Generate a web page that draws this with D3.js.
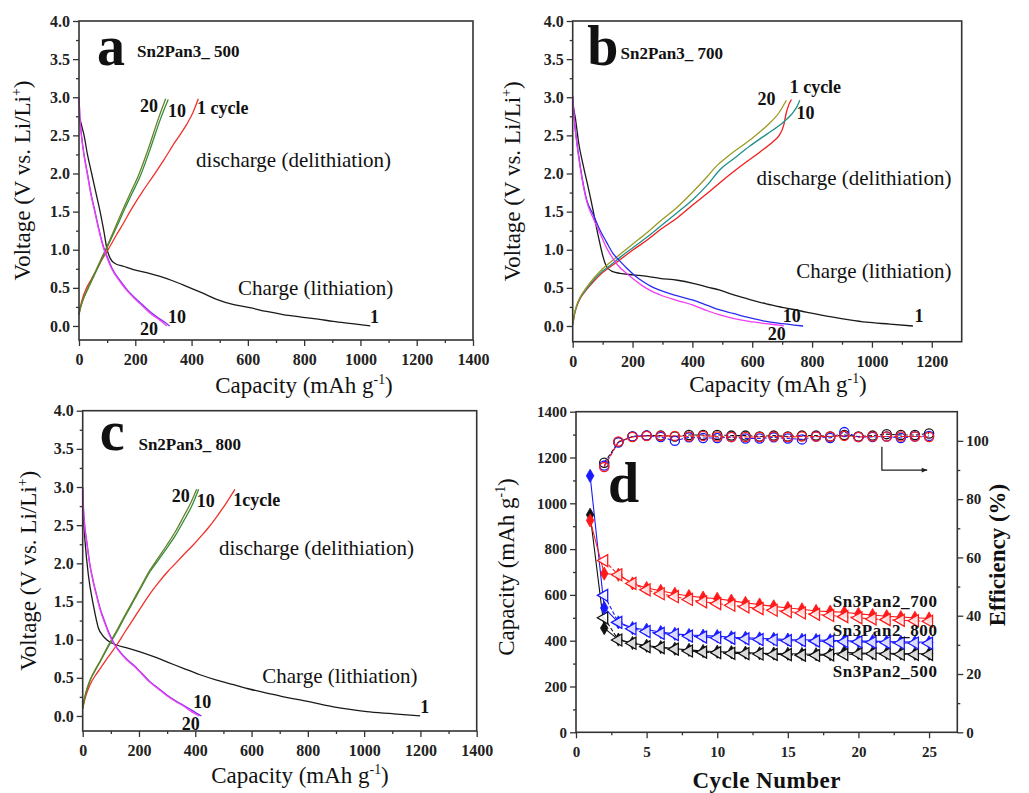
<!DOCTYPE html>
<html><head><meta charset="utf-8">
<script src="https://cdn.jsdelivr.net/npm/d3@7"></script>
<style>body{margin:0;background:#fff}svg{display:block}</style>
</head><body>
<svg id="chart" width="1029" height="793"></svg>
<script>
// ---------------- DATA ----------------
// Panel a : Sn2Pan3_500  [capacity mAh/g, voltage V]
const a_charge_1 = [[3,2.72],[10,2.62],[18,2.5],[30,2.25],[45,2.0],[60,1.75],[75,1.5],[88,1.25],[100,1.0],[112,0.88],[128,0.82],[160,0.78],[193,0.74],[240,0.70],[288,0.65],[335,0.59],[382,0.52],[440,0.43],[489,0.35],[550,0.28],[607,0.24],[666,0.19],[725,0.15],[784,0.12],[850,0.09],[903,0.06],[970,0.03],[1035,0.0]];
const a_charge_10 = [[0,3.0],[3,2.75],[9,2.5],[18,2.25],[30,2.0],[42,1.75],[57,1.5],[72,1.25],[88,1.03],[100,0.91],[117,0.76],[147,0.59],[170,0.48],[201,0.36],[231,0.26],[262,0.16],[292,0.08],[312,0.03],[322,0.0]];
const a_charge_20 = [[0,3.0],[3,2.74],[9,2.48],[18,2.23],[30,1.98],[42,1.73],[57,1.48],[72,1.23],[88,1.01],[100,0.89],[116,0.75],[146,0.58],[169,0.47],[200,0.35],[229,0.25],[258,0.15],[286,0.08],[303,0.03],[312,0.0]];
const a_dis_1 = [[0,0.15],[3,0.22],[10,0.33],[27,0.5],[45,0.62],[63,0.74],[80,0.86],[100,0.98],[134,1.2],[160,1.36],[181,1.5],[225,1.76],[264,1.97],[300,2.17],[341,2.41],[382,2.64],[405,2.8],[424,2.98]];
const a_dis_10 = [[0,0.15],[4,0.22],[12,0.32],[27,0.45],[50,0.63],[75,0.83],[100,1.03],[134,1.3],[163,1.54],[190,1.75],[217,1.96],[252,2.31],[288,2.70],[317,2.97]];
const a_dis_20 = [[0,0.15],[4,0.22],[12,0.32],[27,0.46],[50,0.65],[75,0.85],[100,1.05],[132,1.32],[160,1.56],[186,1.77],[212,1.98],[247,2.33],[282,2.72],[308,2.98]];

// Panel b : Sn2Pan3_700
const b_charge_1 = [[3,2.85],[8,2.75],[20,2.4],[36,2.09],[50,1.85],[69,1.5],[80,1.28],[91,1.08],[102,0.9],[113,0.78],[130,0.72],[158,0.69],[202,0.67],[250,0.65],[291,0.625],[350,0.6],[402,0.56],[450,0.51],[492,0.47],[536,0.41],[590,0.35],[647,0.29],[700,0.245],[759,0.2],[815,0.155],[870,0.115],[925,0.08],[981,0.05],[1060,0.025],[1137,0.0]];
const b_charge_10 = [[0,3.02],[3,2.85],[8,2.6],[13,2.44],[25,2.1],[47,1.65],[70,1.45],[91,1.26],[113,1.1],[135,0.95],[158,0.85],[180,0.76],[208,0.66],[236,0.58],[262,0.52],[291,0.47],[345,0.4],[402,0.34],[450,0.27],[492,0.21],[536,0.165],[590,0.11],[647,0.06],[700,0.03],[740,0.012],[770,0.0]];
const b_charge_20 = [[0,3.0],[3,2.85],[8,2.6],[13,2.42],[25,2.08],[47,1.63],[70,1.4],[91,1.22],[110,1.05],[124,0.95],[150,0.8],[180,0.69],[208,0.6],[236,0.52],[262,0.46],[291,0.41],[345,0.34],[402,0.275],[450,0.2],[492,0.145],[536,0.1],[590,0.06],[647,0.03],[690,0.01],[705,0.0]];
const b_dis_1 = [[0,0.02],[2,0.06],[6,0.15],[13,0.25],[25,0.36],[45,0.47],[69,0.58],[100,0.7],[130,0.79],[158,0.87],[202,1.0],[250,1.13],[291,1.26],[350,1.42],[402,1.59],[450,1.74],[492,1.88],[536,2.02],[580,2.15],[625,2.28],[670,2.42],[690,2.5],[705,2.63],[714,2.8],[722,2.9],[731,2.97]];
const b_dis_10 = [[0,0.02],[2,0.07],[6,0.16],[13,0.26],[25,0.37],[45,0.48],[69,0.6],[100,0.72],[130,0.81],[158,0.9],[202,1.03],[250,1.17],[291,1.3],[350,1.49],[402,1.66],[450,1.85],[492,2.05],[540,2.2],[592,2.36],[650,2.52],[703,2.67],[730,2.77],[750,2.88],[759,2.96]];
const b_dis_20 = [[0,0.02],[2,0.08],[6,0.17],[13,0.27],[25,0.38],[45,0.5],[69,0.62],[100,0.75],[130,0.85],[158,0.94],[202,1.08],[250,1.23],[291,1.37],[350,1.56],[402,1.76],[450,1.96],[481,2.1],[520,2.23],[592,2.44],[650,2.63],[690,2.8],[714,2.96]];

// Panel c : Sn2Pan3_800
const c_charge_1 = [[2,2.62],[8,2.3],[20,1.85],[38,1.45],[56,1.15],[70,1.06],[85,1.0],[121,0.93],[160,0.89],[204,0.84],[250,0.78],[299,0.71],[360,0.62],[417,0.54],[476,0.47],[536,0.41],[595,0.35],[654,0.30],[714,0.25],[773,0.21],[832,0.165],[891,0.12],[950,0.085],[1009,0.057],[1100,0.03],[1199,0.0]];
const c_charge_10 = [[0,3.0],[3,2.7],[7,2.5],[14,2.3],[25,2.0],[38,1.76],[50,1.58],[62,1.41],[80,1.22],[97,1.06],[115,0.93],[133,0.84],[155,0.75],[180,0.67],[210,0.56],[239,0.45],[270,0.36],[299,0.275],[330,0.2],[358,0.14],[390,0.07],[412,0.02],[422,0.0]];
const c_charge_20 = [[0,2.98],[3,2.68],[7,2.48],[14,2.28],[25,1.98],[38,1.74],[50,1.56],[62,1.39],[80,1.2],[97,1.04],[115,0.92],[133,0.83],[155,0.74],[180,0.66],[210,0.55],[239,0.44],[270,0.35],[299,0.265],[330,0.19],[358,0.13],[385,0.06],[405,0.02],[413,0.0]];
const c_dis_1 = [[0,0.1],[2,0.13],[10,0.25],[26,0.41],[45,0.53],[62,0.62],[90,0.77],[121,0.93],[150,1.1],[180,1.27],[210,1.44],[239,1.6],[270,1.75],[299,1.88],[330,2.0],[358,2.11],[390,2.23],[417,2.34],[445,2.46],[476,2.61],[510,2.79],[541,2.97]];
const c_dis_10 = [[0,0.1],[2,0.14],[10,0.28],[26,0.46],[45,0.6],[62,0.71],[90,0.9],[121,1.1],[150,1.3],[180,1.5],[210,1.7],[239,1.89],[270,2.05],[299,2.2],[330,2.37],[358,2.55],[390,2.77],[412,2.97]];
const c_dis_20 = [[0,0.1],[2,0.15],[10,0.29],[26,0.47],[45,0.61],[62,0.72],[90,0.92],[121,1.12],[150,1.32],[180,1.52],[210,1.72],[239,1.91],[270,2.08],[299,2.24],[330,2.42],[358,2.61],[385,2.8],[405,2.97]];

// Panel d : cycling performance
const cycles = d3.range(1, 26);
const cap500_charge = [950,455,405,390,378,372,365,360,355,352,350,348,345,344,343,342,341,341,350,345,346,345,344,343,343];
const cap500_discharge = [500,403,389,374,370,363,355,350,348,345,344,342,340,339,337,336,338,340,342,343,342,341,340,340];
const cap700_charge = [925,693,688,650,630,618,605,595,588,583,575,565,558,550,543,537,530,527,524,517,512,507,503,500,497];
const cap700_discharge = [750,688,650,622,605,592,580,570,562,555,548,540,533,527,521,515,510,505,500,495,492,489,487,485];
const cap800_charge = [1120,543,480,455,448,438,430,425,422,420,415,413,410,408,405,404,403,402,400,398,398,396,395,394,393];
const cap800_discharge = [598,480,452,440,432,427,420,416,413,410,408,405,403,400,400,398,397,396,395,393,392,390,390,389];
const eff500 = [92.5,99.5,101.5,101.8,101.8,101.5,102,102,102,101.8,101.8,101.5,101.8,101.5,101.8,101.8,101.5,102,101.5,101.8,102.3,102,102,102.5];
const eff700 = [91,99.8,101.3,101.7,101.7,101.7,101.5,101.7,101.5,101.3,101.3,101.3,101.5,101.3,101.5,101.5,101.5,101.7,101.3,101.5,101.5,101.5,101.5,101.3];
const eff800 = [91.5,99.5,101.5,101.8,101.3,100,101.2,101,101,101.3,100.8,100.8,101.2,100.8,100.5,101.5,101,103,101.3,101.3,101.5,101,101.5,101.7];

const voltTicks = [0,0.5,1,1.5,2,2.5,3,3.5,4];
const voltMinor = [0.25,0.75,1.25,1.75,2.25,2.75,3.25,3.75];
const cycleTicks = [0,5,10,15,20,25];
const cycleMinor = [2.5,7.5,12.5,17.5,22.5];
const capTicks = [0,200,400,600,800,1000,1200,1400];
const capMinor = [100,300,500,700,900,1100,1300];
const effTicks = [0,20,40,60,80,100];
const effMinor = [10,30,50,70,90];

// ---------------- DRAW ----------------
const SERIF = '"Liberation Serif","Times New Roman",serif';
const svg = d3.select('#chart');
svg.append('rect').attr('width',1029).attr('height',793).attr('fill','#fff');

function styleAxis(sel, size) {
  sel.attr('font-family',SERIF);
  sel.selectAll('path.domain').remove();
  sel.selectAll('line').attr('stroke','#333').attr('stroke-width',1.3);
  sel.selectAll('text').attr('font-family',SERIF).attr('font-weight','bold').attr('font-size',size).attr('fill','#222');
}

function addAxes(g, x, y, xt, xm, yt, ym, xfmt, yfmt, fs) {
  const B = y.range()[0], L = x.range()[0];
  g.append('g').attr('transform',`translate(0,${B})`)
    .call(d3.axisBottom(x).tickValues(xm).tickSize(3).tickSizeOuter(0).tickFormat(''))
    .call(s=>styleAxis(s,fs));
  g.append('g').attr('transform',`translate(0,${B})`)
    .call(d3.axisBottom(x).tickValues(xt).tickSize(6).tickSizeOuter(0).tickPadding(8).tickFormat(xfmt))
    .call(s=>styleAxis(s,fs));
  g.append('g').attr('transform',`translate(${L},0)`)
    .call(d3.axisLeft(y).tickValues(ym).tickSize(3).tickSizeOuter(0).tickFormat(''))
    .call(s=>styleAxis(s,fs));
  g.append('g').attr('transform',`translate(${L},0)`)
    .call(d3.axisLeft(y).tickValues(yt).tickSize(6).tickSizeOuter(0).tickPadding(3).tickFormat(yfmt))
    .call(s=>styleAxis(s,fs));
}

function frame(g, x, y) {
  const [L,R] = x.range(), [B,T] = y.range();
  g.append('rect').attr('x',L).attr('y',T).attr('width',R-L).attr('height',B-T)
    .attr('fill','none').attr('stroke','#333').attr('stroke-width',1.6);
}

function txt(g, px, py, s, size, bold, anchor) {
  return g.append('text').attr('x',px).attr('y',py).text(s)
    .attr('font-family',SERIF).attr('font-size',size)
    .attr('font-weight',bold?'bold':'normal').attr('fill','#111')
    .attr('text-anchor',anchor||'start');
}

function capTitle(g, cx, cy, rotate, size) {
  const t = g.append('text').attr('font-family',SERIF).attr('font-size',size)
    .attr('fill','#111').attr('text-anchor','middle')
    .attr('transform', rotate ? `translate(${cx},${cy}) rotate(-90)` : `translate(${cx},${cy})`);
  t.append('tspan').text('Capacity (mAh g');
  t.append('tspan').text('-1').attr('font-size',size*0.6).attr('dy',-size*0.4);
  t.append('tspan').text(')').attr('dy',size*0.4);
  return t;
}

function voltTitle(g, cx, cy, size) {
  const t = g.append('text').attr('font-family',SERIF).attr('font-size',size)
    .attr('fill','#111').attr('text-anchor','middle')
    .attr('transform',`translate(${cx},${cy}) rotate(-90)`);
  t.append('tspan').text('Voltage (V vs. Li/Li');
  t.append('tspan').text('+').attr('font-size',size*0.6).attr('dy',-size*0.4);
  t.append('tspan').text(')').attr('dy',size*0.4);
}

function voltagePanel(cfg) {
  const x = d3.scaleLinear().domain(cfg.xDomain).range([cfg.left,cfg.right]);
  const y = d3.scaleLinear().domain(cfg.yDomain).range([cfg.bottom,cfg.top]);
  const g = svg.append('g');
  const xt = capTicks.filter(v => v <= cfg.xDomain[1]);
  const xm = capMinor.filter(v => v < cfg.xDomain[1]);
  addAxes(g, x, y, xt, xm, voltTicks, voltMinor, d3.format('d'), d3.format('.1f'), 16);
  const line = d3.line().x(d=>x(d[0])).y(d=>y(d[1])).curve(d3.curveMonotoneX);
  cfg.series.forEach(s => {
    g.append('path').datum(s.data).attr('d',line).attr('fill','none')
      .attr('stroke',s.color).attr('stroke-width',1.3);
  });
  frame(g, x, y);
  cfg.labels.forEach(l => txt(g, x(l[0]), y(l[1]), l[2], l[3], l[4]));
  voltTitle(g, cfg.yTitleX, (cfg.top+cfg.bottom)/2, 23);
  capTitle(g, cfg.xTitleX, cfg.xTitleY, false, 23);
}

// Panel a
voltagePanel({
  left:79, right:473, top:21, bottom:340, xDomain:[0,1400], yDomain:[-0.184,4.0],
  yTitleX:30, xTitleX:304, xTitleY:393,
  series:[
    {data:a_charge_1,color:'#1a1a1a'},
    {data:a_dis_1,color:'#f0302a'},
    {data:a_dis_10,color:'#2f8f3a'},
    {data:a_dis_20,color:'#6b7f2a'},
    {data:a_charge_10,color:'#7a30f0'},
    {data:a_charge_20,color:'#f040f0'}
  ],
  labels:[
    [64,3.42,'a',56,true],[206,3.53,'Sn2Pan3_ 500',17,true],
    [217,2.81,'20',18,true],[316,2.74,'10',18,true],[419,2.78,'1 cycle',18,true],
    [416,2.09,'discharge (delithiation)',21,false],
    [565,0.41,'Charge (lithiation)',21,false],
    [316,0.04,'10',18,true],[217,-0.12,'20',18,true],[1034,0.04,'1',18,true]
  ]
});

// Panel b
voltagePanel({
  left:572.7, right:961.7, top:21, bottom:341.7, xDomain:[0,1300], yDomain:[-0.206,4.0],
  yTitleX:520, xTitleX:778, xTitleY:392,
  series:[
    {data:b_charge_1,color:'#1a1a1a'},
    {data:b_dis_1,color:'#f21c1c'},
    {data:b_dis_10,color:'#1f8f8a'},
    {data:b_dis_20,color:'#9a9a22'},
    {data:b_charge_10,color:'#2a2af0'},
    {data:b_charge_20,color:'#f03cf0'}
  ],
  labels:[
    [49,3.42,'b',56,true],[160,3.5,'Sn2Pan3_ 700',17,true],
    [725,3.06,'1 cycle',18,true],[618,2.9,'20',18,true],[748,2.71,'10',18,true],
    [614,1.85,'discharge (delithiation)',21,false],
    [747,0.63,'Charge (lithiation)',21,false],
    [702,0.05,'10',18,true],[652,-0.18,'20',18,true],[1142,0.05,'1',18,true]
  ]
});

// Panel c
voltagePanel({
  left:82.7, right:476.7, top:410.7, bottom:731, xDomain:[0,1400], yDomain:[-0.197,4.0],
  yTitleX:36, xTitleX:300, xTitleY:783,
  series:[
    {data:c_charge_1,color:'#1a1a1a'},
    {data:c_dis_1,color:'#f0302a'},
    {data:c_dis_10,color:'#2f8f3a'},
    {data:c_dis_20,color:'#6b7f2a'},
    {data:c_charge_10,color:'#7a30f0'},
    {data:c_charge_20,color:'#f040f0'}
  ],
  labels:[
    [61,3.48,'c',56,true],[198,3.49,'Sn2Pan3_ 800',17,true],
    [316,2.8,'20',18,true],[405,2.74,'10',18,true],[535,2.75,'1cycle',18,true],
    [484,2.11,'discharge (delithiation)',21,false],
    [638,0.43,'Charge (lithiation)',21,false],
    [393,0.10,'10',18,true],[352,-0.18,'20',18,true],[1199,0.04,'1',18,true]
  ]
});

// Panel d
(function(){
  const L=576, R=957.3, T=411.7, B=732.3;
  const x = d3.scaleLinear().domain([0,27]).range([L,R]);
  const y = d3.scaleLinear().domain([0,1400]).range([B,T]);
  const yr = d3.scaleLinear().domain([0,110]).range([B,T]);
  const g = svg.append('g');
  addAxes(g, x, y, cycleTicks, cycleMinor, capTicks, capMinor, d3.format('d'), d3.format('d'), 15);
  g.append('g').attr('transform',`translate(${R},0)`)
    .call(d3.axisRight(yr).tickValues(effMinor).tickSize(3).tickSizeOuter(0).tickFormat(''))
    .call(s=>styleAxis(s,15));
  g.append('g').attr('transform',`translate(${R},0)`)
    .call(d3.axisRight(yr).tickValues(effTicks).tickSize(6).tickSizeOuter(0).tickPadding(3).tickFormat(d3.format('d')))
    .call(s=>styleAxis(s,15));
  frame(g, x, y);

  const series = [
    {ch:cap500_charge, dis:cap500_discharge, eff:eff500, color:'#111111'},
    {ch:cap800_charge, dis:cap800_discharge, eff:eff800, color:'#1a1aff'},
    {ch:cap700_charge, dis:cap700_discharge, eff:eff700, color:'#ff1a1a'}
  ];
  const lineL = d3.line().x(d=>x(d[0])).y(d=>y(d[1]));
  const lineR = d3.line().x(d=>x(d[0])).y(d=>yr(d[1]));
  const diamond = d3.symbol().type(d3.symbolDiamond).size(50);
  const tri = d3.symbol().type(d3.symbolTriangle).size(62);
  series.forEach(s => {
    const chPts = cycles.map((c,i)=>[c, s.ch[i]]);
    const disPts = cycles.slice(1).map((c,i)=>[c, s.dis[i]]);
    const effPts = cycles.slice(1).map((c,i)=>[c, s.eff[i]]);
    g.append('path').datum(chPts).attr('d',lineL).attr('fill','none')
      .attr('stroke',s.color).attr('stroke-width',1.1);
    g.append('path').datum(disPts).attr('d',lineL).attr('fill','none')
      .attr('stroke',s.color).attr('stroke-width',1.1).attr('stroke-dasharray','4,2');
    g.append('path').datum(effPts).attr('d',lineR).attr('fill','none')
      .attr('stroke',s.color).attr('stroke-width',1.1).attr('stroke-dasharray','4,2');
    g.selectAll(null).data(chPts).enter().append('path').attr('d',diamond)
      .attr('transform',d=>`translate(${x(d[0])},${y(d[1])})`)
      .attr('fill',s.color).attr('stroke',s.color).attr('stroke-width',0.8);
    g.selectAll(null).data(disPts).enter().append('path').attr('d',tri)
      .attr('transform',d=>`translate(${x(d[0])},${y(d[1])}) rotate(-90)`)
      .attr('fill','#fff').attr('fill-opacity',0.85).attr('stroke',s.color).attr('stroke-width',1.3);
    g.selectAll(null).data(effPts).enter().append('circle')
      .attr('cx',d=>x(d[0])).attr('cy',d=>yr(d[1])).attr('r',4.6)
      .attr('fill','none').attr('stroke',s.color).attr('stroke-width',1.3);
  });

  txt(g, x(25.6), y(548), 'Sn3Pan2_700', 17, true, 'end').attr('letter-spacing',0.6);
  txt(g, x(25.6), y(422), 'Sn3Pan2_800', 17, true, 'end').attr('letter-spacing',0.6);
  txt(g, x(25.6), y(243), 'Sn3Pan2_500', 17, true, 'end').attr('letter-spacing',0.6);
  txt(g, x(2.26), y(1006), 'd', 56, true);

  svg.append('defs').append('marker').attr('id','arr').attr('viewBox','0 0 10 10')
    .attr('refX',9).attr('refY',5).attr('markerWidth',9).attr('markerHeight',6)
    .attr('markerUnits','userSpaceOnUse').attr('orient','auto')
    .append('path').attr('d','M0,1L10,5L0,9Z').attr('fill','#222');
  g.append('path')
    .attr('d',`M${x(21.66)},${y(1247)}V${y(1145)}H${x(24.86)}`)
    .attr('fill','none').attr('stroke','#222').attr('stroke-width',1.3)
    .attr('marker-end','url(#arr)');

  capTitle(g, 514, (T+B)/2 - 5, true, 23);
  g.append('text').attr('font-family',SERIF).attr('font-size',23).attr('font-weight','bold')
    .attr('fill','#111').attr('text-anchor','middle')
    .attr('transform',`translate(1005,555) rotate(-90)`).text('Efficiency (%)');
  txt(g, (L+R)/2, 788, 'Cycle Number', 23, true, 'middle').attr('letter-spacing',0.5);
})();
</script>
</body></html>
